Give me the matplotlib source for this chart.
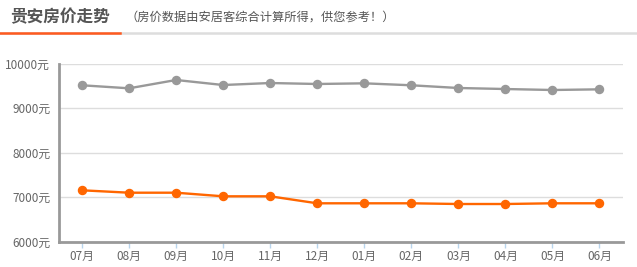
import matplotlib.pyplot as plt

plt.rcParams['font.family'] = ['Noto Sans CJK SC', 'DejaVu Sans']

months = ['07月', '08月', '09月', '10月', '11月', '12月', '01月', '02月', '03月', '04月', '05月', '06月']
gray_vals = [9515, 9447, 9634, 9521, 9566, 9544, 9559, 9515, 9454, 9431, 9409, 9424]
orange_vals = [7155, 7101, 7101, 7020, 7020, 6863, 6863, 6863, 6847, 6847, 6863, 6863]
yticks = [6000, 7000, 8000, 9000, 10000]

W, H = 637, 267
fig = plt.figure(figsize=(W / 100, H / 100), dpi=100)

# header
fig.text(10 / W, 1 - 17 / H, '贵安房价走势', fontsize=12, fontweight='bold', color='#555555', va='center')
fig.text(125 / W, 1 - 17 / H, '（房价数据由安居客综合计算所得，供您参考！）', fontsize=8.8, color='#555555', va='center')
fig.add_artist(plt.Line2D([0, 1], [1 - 33 / H, 1 - 33 / H], color='#dddddd', lw=1.8, transform=fig.transFigure))
fig.add_artist(plt.Line2D([0, 120 / W], [1 - 33 / H, 1 - 33 / H], color='#ff5a1f', lw=1.8, transform=fig.transFigure))

ax = fig.add_axes([58.5 / W, 25.3 / H, (623 - 58.5) / W, (241.7 - 63.7) / H])
x = list(range(len(months)))
ax.plot(x, gray_vals, color='#999999', lw=1.7, marker='o', ms=5.8, zorder=3)
ax.plot(x, orange_vals, color='#ff6600', lw=1.7, marker='o', ms=5.8, zorder=3)

ax.set_xlim(-0.5, len(months) - 0.5)
ax.set_ylim(6000, 10000)
ax.set_yticks(yticks)
ax.set_yticklabels([f'{v}元' for v in yticks])
ax.set_xticks(x)
ax.set_xticklabels(months)
ax.grid(axis='y', color='#dddddd', lw=1)
ax.set_axisbelow(True)

for s in ['top', 'right']:
    ax.spines[s].set_visible(False)
for s in ['left', 'bottom']:
    ax.spines[s].set_color('#999999')
    ax.spines[s].set_linewidth(2)

ax.tick_params(axis='y', length=0, pad=6, labelsize=8.5, labelcolor='#666666')
ax.tick_params(axis='x', length=4, width=1, color='#b8d4ec', pad=2, labelsize=8.5, labelcolor='#666666')

fig.savefig('out.png', dpi=100)
